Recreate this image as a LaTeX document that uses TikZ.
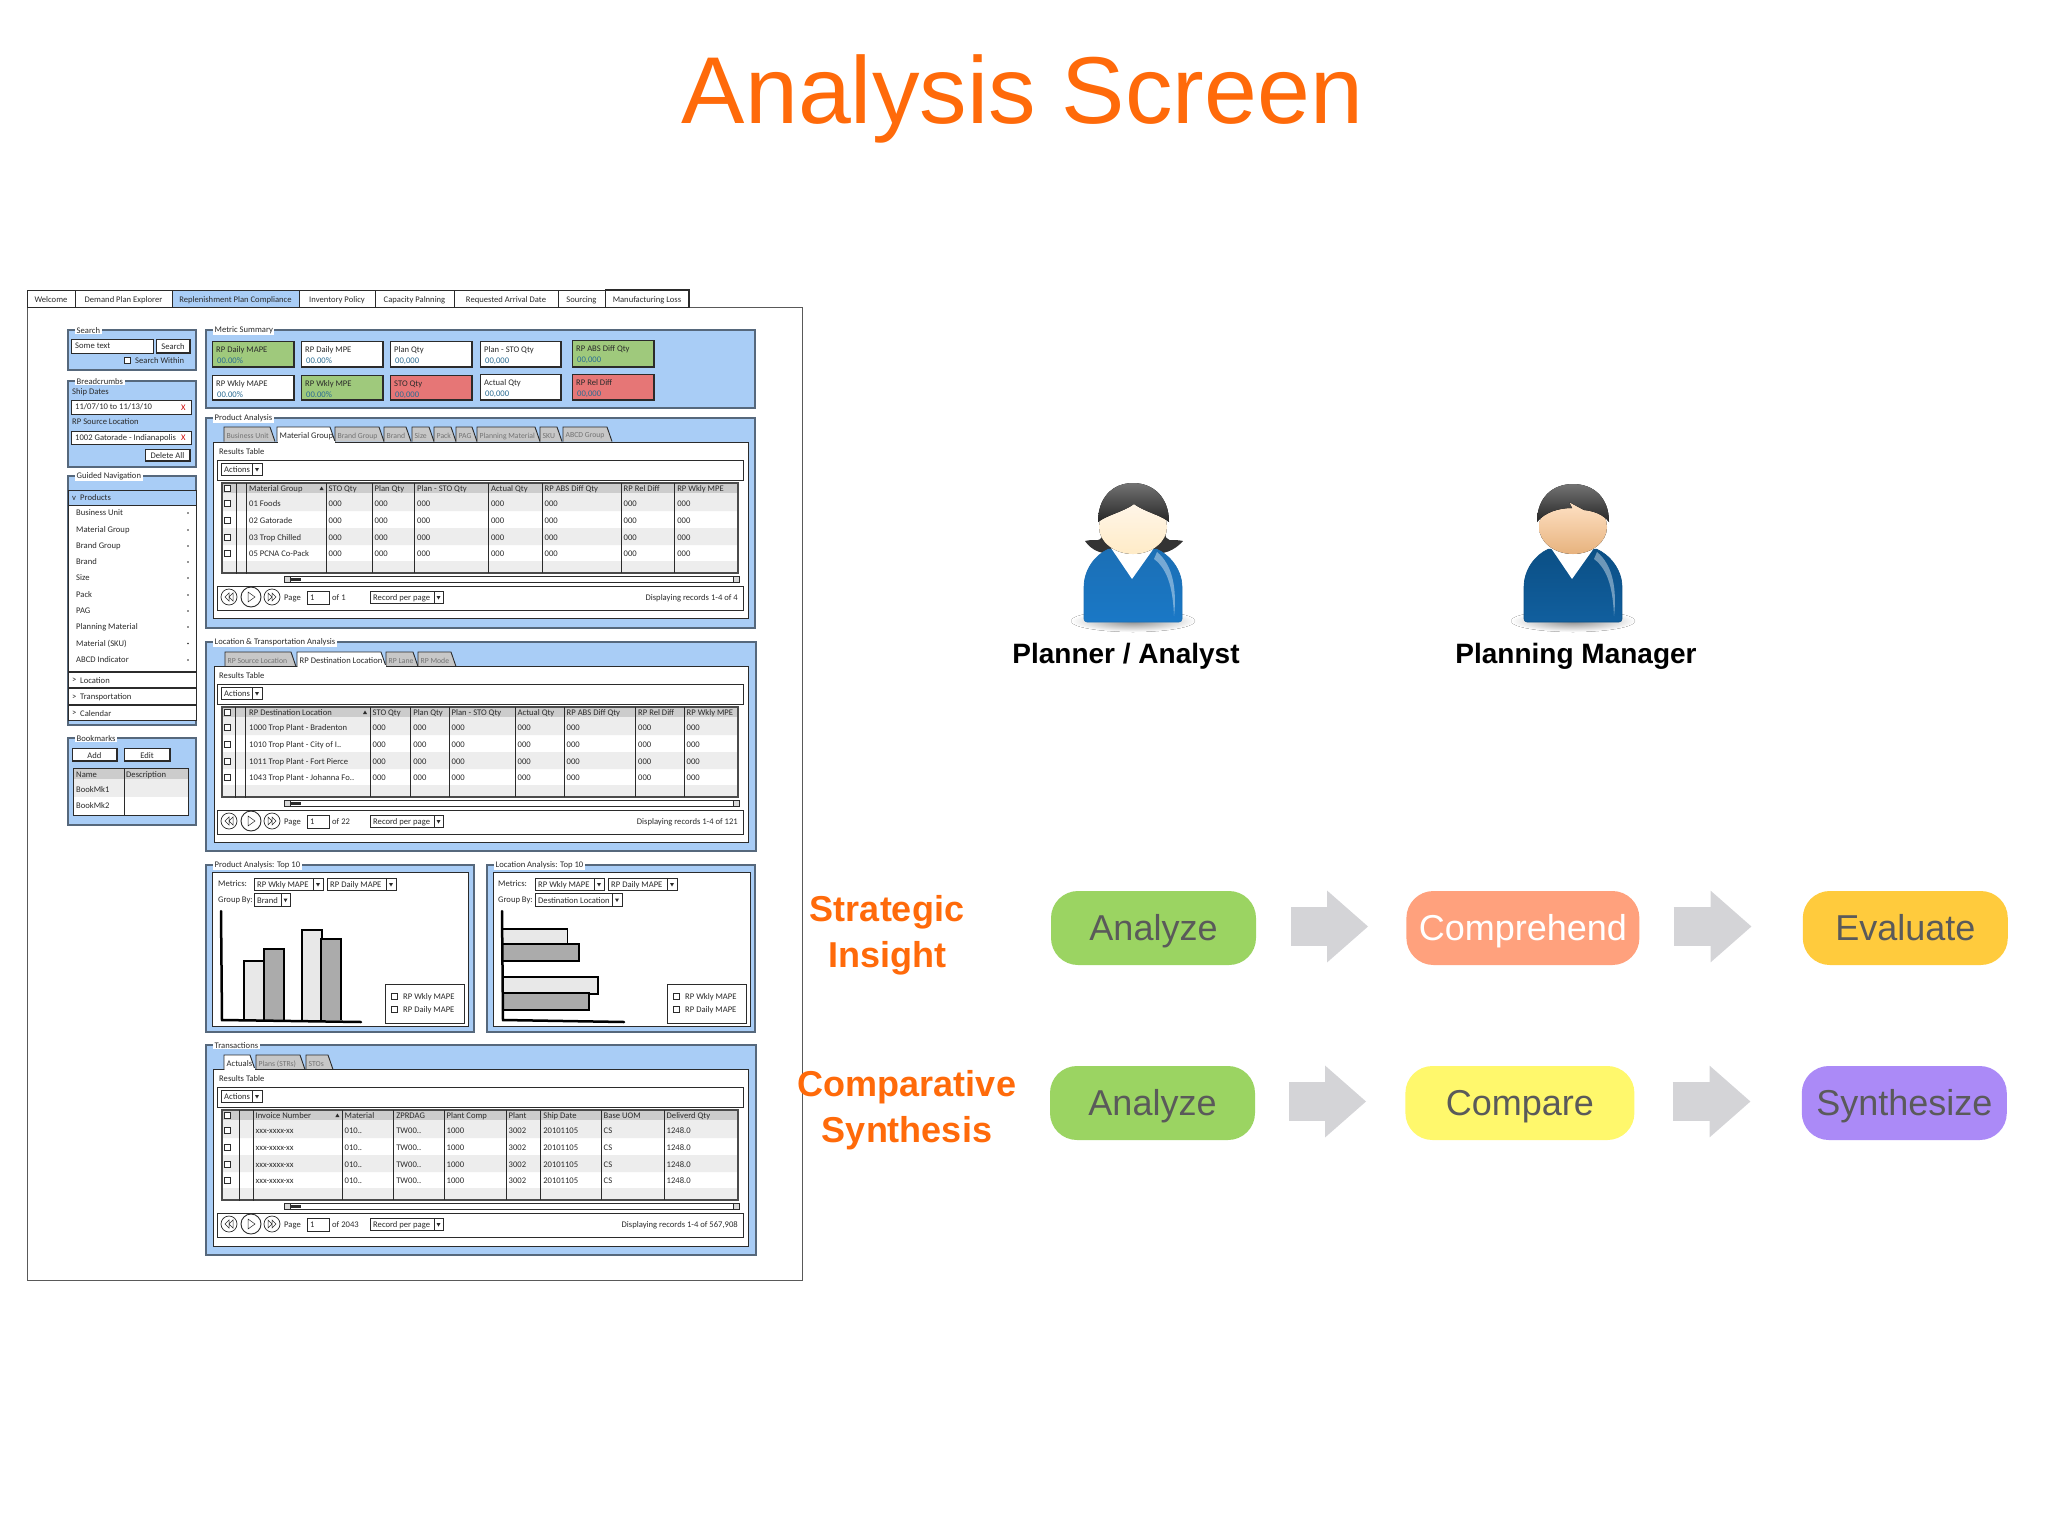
\documentclass[tikz,border=0pt]{standalone}
\usepackage{fontspec}
\setmainfont{Liberation Sans}
\newfontfamily\sketchfont{Carlito}
\usetikzlibrary{positioning,arrows.meta}

\definecolor{titleorange}{HTML}{FF6A0A}
\definecolor{wfblue}{HTML}{A9CDF6}
\definecolor{wfedge}{HTML}{56687C}
\definecolor{wfink}{HTML}{2B2B2B}
\definecolor{wfgreen}{HTML}{9FC97C}
\definecolor{wfred}{HTML}{E67676}
\definecolor{wfvalue}{HTML}{2A6C93}
\definecolor{arrowgrey}{HTML}{D4D4D7}
\definecolor{pilltext}{HTML}{5A5A5A}
\definecolor{analyzegreen}{HTML}{9BD462}
\definecolor{comprehendpeach}{HTML}{FFA17D}
\definecolor{evaluategold}{HTML}{FFCB3D}
\definecolor{compareyellow}{HTML}{FFF86C}
\definecolor{synthesizeviolet}{HTML}{AB8AF7}

\tikzset{
  wfline/.style={draw=wfink,line width=0.9pt},
  wfpanelbox/.style={draw=wfedge,line width=1.3pt,fill=wfblue},
  wflabelbase/.style={font=\sketchfont\fontsize{8.6}{10}\selectfont,text=wfink,inner sep=0pt,anchor=west,yshift=-1pt},
  wflegend/.style={font=\sketchfont\fontsize{8.6}{10}\selectfont,text=wfink,fill=white,inner xsep=1.5pt,inner ysep=0.5pt,anchor=west,yshift=-0.5pt},
  wftabtext/.style={font=\sketchfont\fontsize{7.7}{9}\selectfont,text=black!55},
  pill/.style={rounded corners=27pt,minimum width=205pt,minimum height=74pt,inner sep=0pt,text height=30pt,text depth=6pt,
    text=pilltext,font=\fontsize{36}{40}\selectfont},
  flowarrow/.style={draw=arrowgrey,line width=39pt,-{Triangle[length=41pt,width=69pt]},shorten <=35pt,shorten >=38pt},
  rowlabel/.style={text=titleorange,font=\bfseries\fontsize{36}{46}\selectfont,align=center,inner sep=0pt},
  rolelabel/.style={text=black,font=\bfseries\fontsize{28}{30}\selectfont,inner sep=0pt}
}

\newcounter{wfnode}
\newcommand{\wflabel}[4][]{\stepcounter{wfnode}\node[wflabelbase,#1] (wf\arabic{wfnode}) at ({#2},{#3}) {#4};}
\newcommand{\wfbox}[4]{\draw[wfline,fill=white] (#1,#2) rectangle (#3,#4);}
\newcommand{\wfcheck}[2]{\draw[draw=wfink,line width=0.6pt,fill=white] (#1-3,#2-3) rectangle (#1+3,#2+3);}
% button with the heavy lower right edge
\newcommand{\wfbutton}[5]{\wfbox{#1}{#2}{#3}{#4}
  \draw[draw=wfink,line width=1.6pt] (#1,#4) -- (#3,#4) -- (#3,#2);
  \stepcounter{wfnode}\node[wflabelbase,anchor=center] (wf\arabic{wfnode}) at ({(#1+#3)/2},{(#2+#4)/2}) {#5};}
\newcommand{\wfdrop}[6]{\draw[draw=wfink,line width=0.7pt,fill=white] (#1,#2) rectangle (#3,#4) (#5,#2) -- (#5,#4);
  \fill[wfink] ({(#5+#3)/2-2},{(#2+#4)/2-1}) -- ++(4,0) -- ++(-2,3.5) -- cycle;
  \wflabel{#1+3}{(#2+#4)/2}{#6}}
\newcommand{\wfcard}[7]{\draw[wfline,fill=#5] (#1,#2) rectangle (#3,#4);
  \draw[draw=wfink,line width=1.6pt] (#1,#4) -- (#3,#4) -- (#3,#2);
  \wflabel{#1+4}{#2+8}{#6}
  \wflabel[text=wfvalue]{#1+5}{#2+19}{#7}}
\newcommand{\wfpanel}[5]{\draw[wfpanelbox] (#1,#2) rectangle (#3,#4);
  \stepcounter{wfnode}\node[wflegend] (wf\arabic{wfnode}) at (#1+7,#2) {#5};}
\newcommand{\wfpaneltab}[5]{\draw[wfline,fill=#4] (#1,#3+14.5) -- (#1,#3) -- (#2-5,#3) -- (#2,#3+14.5);
  \wflabel[#5]{#1+2.5}{#3+8}}

% results table with its tool bar, scroll bar and pager
\newcommand{\resultstable}[7]{
  \wflabel{219}{451+#1}{Results Table}
  \wfbox{217}{460+#1}{743}{480+#1}
  \wfdrop{221}{463+#1}{262}{475+#1}{252}{Actions}
  \fill[white] (222,483+#1) rectangle (738,573+#1);
  \fill[black!7] (222,493+#1) rectangle (738,511+#1) (222,528+#1) rectangle (738,545+#1) (222,561+#1) rectangle (738,573+#1);
  \fill[black!20] (222,483+#1) rectangle (738,493+#1);
  \draw[wfline,line width=1.1pt,draw=wfink!85] (222,483+#1) rectangle (738,573+#1);
  \draw[wfline,line width=0.6pt] (#2,483+#1) -- (#2,574+#1) (#3,483+#1) -- (#3,574+#1);
  \foreach \cy in {488,503,520,537,553} {\wfcheck{227.5}{\cy+#1}}
  \foreach \colx/\colhead/\rowa/\rowb/\rowc/\rowd in {#4} {
    \ifdim\colx pt>#3pt \draw[wfline,line width=0.6pt] (\colx,483+#1) -- (\colx,573+#1);\fi
    \wflabel{\colx+2.5}{488+#1}{\colhead}
    \wflabel{\colx+2.5}{503+#1}{\rowa}
    \wflabel{\colx+2.5}{520+#1}{\rowb}
    \wflabel{\colx+2.5}{537+#1}{\rowc}
    \wflabel{\colx+2.5}{553+#1}{\rowd}
  }
  \fill[wfink] (#7-2,490+#1) -- ++(4,0) -- ++(-2,-3.5) -- cycle;
  % scroll bar
  \draw[draw=wfink,line width=0.6pt,fill=white] (284,576+#1) rectangle (739,582+#1);
  \fill[wfink] (290,577.5+#1) rectangle (301,580.5+#1);
  \draw[draw=wfink,line width=0.6pt,fill=black!15] (284,576+#1) rectangle (290,582+#1) (733,576+#1) rectangle (739,582+#1);
  % pager
  \wfbox{217}{586+#1}{743}{610+#1}
  \draw[draw=wfink,line width=0.7pt] (229,597+#1) circle (8) (272,597+#1) circle (8);
  \draw[wfline] (251,597+#1) circle (10);
  \draw[draw=wfink,line width=0.5pt] (229,593+#1) -- (225,597+#1) -- (229,601+#1) -- cycle (233,593+#1) -- (229,597+#1) -- (233,601+#1) -- cycle
    (248,592+#1) -- (255,597+#1) -- (248,602+#1) -- cycle
    (268,593+#1) -- (272,597+#1) -- (268,601+#1) -- cycle (272,593+#1) -- (276,597+#1) -- (272,601+#1) -- cycle;
  \wflabel{284}{597+#1}{Page}
  \wfbox{307}{591+#1}{329}{604+#1}
  \wflabel{310}{597+#1}{1}
  \wflabel{332}{597+#1}{#5}
  \wfdrop{370}{591+#1}{443}{603+#1}{434}{Record per page}
  \wflabel[anchor=east]{738}{597+#1}{#6}
}
% metric picker above each Top 10 chart, with its legend
\newcommand{\chartpicker}[8]{
  \wflabel{#1}{883}{Metrics:}
  \wflabel{#1}{899}{Group By:}
  \wfdrop{#2}{878}{#2+69}{890}{#2+59}{RP Wkly MAPE}
  \wfdrop{#3}{878}{#3+69}{890}{#3+59}{RP Daily MAPE}
  \wfdrop{#2}{893}{#4}{906}{#5}{#6}
  \draw[draw=wfink,line width=0.8pt,fill=white] (#7,984) rectangle (#8,1023);
  \wfcheck{#7+9}{996}
  \wfcheck{#7+9}{1009}
  \wflabel{#7+18}{996}{RP Wkly MAPE}
  \wflabel{#7+18}{1009}{RP Daily MAPE}
}
% shoulders, collar and face of a figure
\newcommand{\personbody}[4]{
  \fill[inner color=black!45,outer color=white] (0,621) ellipse (62 and 11);
  \draw[draw=#1,line width=0.6pt,top color=#1,bottom color=#2,rounded corners=3pt]
    (-49,622) -- (-49,590) .. controls (-49,570) and (-38,555) .. (-22,548) -- (-1,578) -- (21,548) .. controls (37,555) and (49,570) .. (49,590) -- (49,622) -- cycle;
  \fill[white] (-22,548) -- (-1,579) -- (21,548) -- (8,553) -- (-8,553) -- cycle;
  \fill[white,opacity=0.4] (24,552) .. controls (40,565) and (44,590) .. (41,616) .. controls (40,592) and (36,570) .. (21,559) -- cycle;
  \fill[top color=#3,bottom color=#4] (0,527) ellipse (34 and 27);
}

\begin{document}
\begin{tikzpicture}[x=1pt,y=-1pt]
\useasboundingbox (0,0) rectangle (2048,1536);

\node[text=titleorange,font=\fontsize{95}{100}\selectfont,inner sep=0pt,anchor=base] (title) at (1022.5,124) {Analysis Screen};

%%% wireframe of the screen
\draw[draw=black!65,line width=1pt,fill=white] (27,307) rectangle (802,1280);
\foreach \tabl/\tabr/\tabfill/\tabname in {27/75/white/Welcome,75/172/white/Demand Plan Explorer,172/299/wfblue/Replenishment Plan Compliance,
    299/375/white/Inventory Policy,375/454/white/Capacity Palnning,454/558/white/Requested Arrival Date,558/605/white/Sourcing,605/689/white/Manufacturing Loss} {
  \draw[wfline,fill=\tabfill] (\tabl,290) rectangle (\tabr,307);
  \wflabel[anchor=center]{(\tabl+\tabr)/2}{299}{\tabname}
}
\draw[draw=wfink,line width=1.2pt] (689,307) -- (689,290) -- (605,290);

% left column
\wfpanel{68}{330}{196}{370}{Search}
\wfbox{71}{339}{153}{353}
\wflabel{75}{345}{Some text}
\wfbutton{156}{339}{190}{353}{Search}
\wfcheck{127}{360}
\wflabel{135}{360}{Search Within}

\wfpanel{68}{381}{196}{467}{Breadcrumbs}
\wflabel{72}{391}{Ship Dates}
\wfbox{71}{400}{191}{414}
\wflabel{75}{406}{11/07/10 to 11/13/10}
\wflabel[text=red!80!black]{181}{407}{X}
\wflabel{72}{421}{RP Source Location}
\wfbox{71}{431}{191}{444}
\wflabel{75}{437}{1002 Gatorade - Indianapolis}
\wflabel[text=red!80!black]{181}{437}{X}
\wfbutton{145}{449}{190}{461}{Delete All}

\wfpanel{68}{476}{196}{725}{Guided Navigation}
\draw[wfline,fill=wfblue] (68,490) rectangle (196,505);
\wflabel{72}{497}{v}
\wflabel{80}{497}{Products}
\draw[wfline,fill=white] (68,505) rectangle (196,671);
\foreach \navy/\navname in {512/Business Unit,529/Material Group,545/Brand Group,561/Brand,577/Size,594/Pack,610/PAG,626/Planning Material,642.5/Material (SKU),659/ABCD Indicator} {
  \wflabel{76}{\navy}{\navname}
  \fill[wfink] (188,\navy+1) circle (0.9);
}
\foreach \navt/\navb/\navname in {672/687/Location,688/704/Transportation,705/720/Calendar} {
  \draw[wfline,fill=white] (68,\navt) rectangle (196,\navb);
  \wflabel{72}{(\navt+\navb)/2}{>}
  \wflabel{80}{(\navt+\navb)/2}{\navname}
}

\wfpanel{68}{738}{196}{825}{Bookmarks}
\wfbutton{72}{748}{117}{761}{Add}
\wfbutton{124}{748}{170}{761}{Edit}
\draw[wfline,fill=white] (73,768) rectangle (188,815);
\fill[black!20] (73.5,768.5) rectangle (187.5,779);
\fill[black!7] (73.5,779) rectangle (187.5,797);
\draw[wfline] (73,768) rectangle (188,815) (124,768) -- (124,815);
\wflabel{76}{774}{Name}
\wflabel{126}{774}{Description}
\wflabel{76}{788.5}{BookMk1}
\wflabel{76}{805}{BookMk2}

% metric cards
\wfpanel{206}{330}{755}{408}{Metric Summary}
\wfcard{212}{341}{294}{367}{wfgreen}{RP Daily MAPE}{00.00\%}
\wfcard{301}{341}{383}{367}{white}{RP Daily MPE}{00.00\%}
\wfcard{390}{341}{472}{367}{white}{Plan Qty}{00,000}
\wfcard{480}{341}{561}{367}{white}{Plan - STO Qty}{00,000}
\wfcard{572}{340}{654}{367}{wfgreen}{RP ABS Diff Qty}{00,000}
\wfcard{212}{375}{294}{400}{white}{RP Wkly MAPE}{00.00\%}
\wfcard{301}{375}{383}{400}{wfgreen}{RP Wkly MPE}{00.00\%}
\wfcard{390}{375}{472}{400}{wfred}{STO Qty}{00,000}
\wfcard{480}{374}{561}{400}{white}{Actual Qty}{00,000}
\wfcard{572}{374}{654}{400}{wfred}{RP Rel Diff}{00,000}

% product analysis
\wfpanel{206}{418}{755}{628}{Product Analysis}
\foreach \tabl/\tabr/\tabname in {224/275/Business Unit,335/384/Brand Group,384/411/Brand,412/434/Size,434/456/Pack,456/477/PAG,477/540/Planning Material,540/562/SKU,563/612/ABCD Group} {
  \wfpaneltab{\tabl}{\tabr}{427}{black!22}{wftabtext}{\tabname}
}
\draw[wfline,fill=white] (213,442) rectangle (748,618);
\wfpaneltab{277}{335}{427}{white}{}{Material Group}
\draw[white,line width=1.2pt] (277.5,442) -- (334.5,442);
\resultstable{0}{236}{246.5}{
  246.5/{}/{}/{}/{}/{},
  326/STO Qty/000/000/000/000,372/Plan Qty/000/000/000/000,414.5/Plan - STO Qty/000/000/000/000,488.4/Actual Qty/000/000/000/000,
  542/RP ABS Diff Qty/000/000/000/000,621/RP Rel Diff/000/000/000/000,674.6/RP Wkly MPE/000/000/000/000}{of 1}{Displaying records 1-4 of 4}{321.6}
\foreach \rowy/\rowname in {488/Material Group,503/01 Foods,520/02 Gatorade,537/03 Trop Chilled,553/05 PCNA Co-Pack} {\wflabel{249}{\rowy}{\rowname}}

% location and transportation analysis
\wfpanel{206}{642}{756}{851}{Location \& Transportation Analysis}
\foreach \tabl/\tabr/\tabname in {225/296/RP Source Location,386/418/RP Lane,418/456/RP Mode} {
  \wfpaneltab{\tabl}{\tabr}{652}{black!22}{wftabtext}{\tabname}
}
\draw[wfline,fill=white] (214,666) rectangle (748,842);
\wfpaneltab{297}{386}{652}{white}{}{RP Destination Location}
\draw[white,line width=1.2pt] (297.5,666) -- (385.5,666);
\resultstable{224}{235}{245.7}{
  245.7/{}/{}/{}/{}/{},
  370/STO Qty/000/000/000/000,410.6/Plan Qty/000/000/000/000,449/Plan - STO Qty/000/000/000/000,515/Actual Qty/000/000/000/000,
  564/RP ABS Diff Qty/000/000/000/000,635.5/RP Rel Diff/000/000/000/000,684/RP Wkly MPE/000/000/000/000}{of 22}{Displaying records 1-4 of 121}{365}
\foreach \rowy/\rowname in {712/RP Destination Location,727/1000 Trop Plant - Bradenton,744/1010 Trop Plant - City of I..,761/1011 Trop Plant - Fort Pierce,777/1043 Trop Plant - Johanna Fo..} {\wflabel{249}{\rowy}{\rowname}}

% top 10 charts
\wfpanel{206}{865}{474}{1032}{Product Analysis: Top 10}
\draw[wfline,fill=white] (212,872) rectangle (468,1026);
\chartpicker{218}{254}{327}{290}{281}{Brand}{385}{464}
\foreach \barl/\barr/\bart/\barfill in {244/264/961/black!9,264/284/949/black!33,302/322/930/black!9,321/341/939/black!33} {
  \draw[draw=black,line width=1.5pt,fill=\barfill] (\barl,1020) -- (\barl,\bart) -- (\barr,\bart) -- (\barr,1020);
}
\draw[draw=black,line width=2.5pt,line cap=round] (221,911) -- (222,1020) -- (361,1022);

\wfpanel{487}{865}{755}{1032}{Location Analysis: Top 10}
\draw[wfline,fill=white] (493,872) rectangle (750,1026);
\chartpicker{498}{535}{608}{622}{612}{Destination Location}{667}{746}
\foreach \bart/\barb/\barr/\barfill in {929/944/567.5/black!9,944/961/579/black!33,977/994/598/black!9,993/1010/589/black!33} {
  \draw[draw=black,line width=1.5pt,fill=\barfill] (503,\bart) -- (\barr,\bart) -- (\barr,\barb) -- (503,\barb);
}
\draw[draw=black,line width=2.5pt,line cap=round] (502,911) -- (503,1020) -- (624,1022);

% transactions
\wfpanel{206}{1045}{756}{1255}{Transactions}
\foreach \tabl/\tabr/\tabname in {256/305/Plans (STRs),306/333/STOs} {
  \wfpaneltab{\tabl}{\tabr}{1055}{black!22}{wftabtext}{\tabname}
}
\draw[wfline,fill=white] (213,1069) rectangle (748,1246);
\wfpaneltab{224}{255}{1055}{white}{}{Actuals}
\draw[white,line width=1.2pt] (224.5,1069) -- (254.5,1069);
\resultstable{627}{239}{253}{
  253/Invoice Number/xxx-xxxx-xx/xxx-xxxx-xx/xxx-xxxx-xx/xxx-xxxx-xx,
  342/Material/010../010../010../010..,393.6/ZPRDAG/TW00../TW00../TW00../TW00..,444/Plant Comp/1000/1000/1000/1000,
  506/Plant/3002/3002/3002/3002,540.6/Ship Date/20101105/20101105/20101105/20101105,601/Base UOM/CS/CS/CS/CS,664/Deliverd Qty/1248.0/1248.0/1248.0/1248.0}{of 2043}{Displaying records 1-4 of 567,908}{337.4}

%%% the two roles
\definecolor{womantop}{HTML}{1B6FB5}
\definecolor{womanlow}{HTML}{1A78C6}
\definecolor{mantop}{HTML}{0B4F85}
\definecolor{manlow}{HTML}{115F9E}
\begin{scope}[xshift=1133pt]
  \fill[black!80] (-30,530) .. controls (-30,545) and (-38,538) .. (-48,541) .. controls (-42,550) and (-30,556) .. (-18,552) -- (18,552) .. controls (30,556) and (42,550) .. (50,541) .. controls (38,538) and (32,545) .. (32,530) -- cycle;
  \personbody{womantop}{womanlow}{yellow!12!orange!8!white}{yellow!30!orange!22!white}
  \fill[top color=black!55,bottom color=black!85] (-35,522) .. controls (-35,497) and (-20,483) .. (0,483) .. controls (20,483) and (36,497) .. (36,522) .. controls (28,515) and (12,512) .. (1,504) .. controls (-10,512) and (-26,515) .. (-35,522) -- cycle;
\end{scope}
\begin{scope}[xshift=1573pt]
  \personbody{mantop}{manlow}{orange!22!white}{orange!38!brown!60!white}
  \fill[top color=black!55,bottom color=black!85] (-36,522) .. controls (-36,497) and (-20,484) .. (0,484) .. controls (20,484) and (36,497) .. (36,522) .. controls (30,514) and (20,511) .. (11,510) -- (-4,502) -- (-1,508) .. controls (-14,508) and (-28,512) .. (-36,522) -- cycle;
\end{scope}
\node[rolelabel,anchor=base] (planner) at (1126,663) {Planner / Analyst};
\node[rolelabel,anchor=base] (manager) at (1576,663) {Planning Manager};

%%% the two flows
\node[rowlabel] (strategic) at (887,935) {Strategic\\Insight};
\node[rowlabel] (comparative) at (907,1110) {Comparative\\Synthesis};

\node[pill,fill=analyzegreen] (analyzeA) at (1153.5,928) {Analyze};
\node[pill,fill=comprehendpeach,minimum width=233pt,text=white] (comprehend) [right=150pt of analyzeA] {Comprehend};
\node[pill,fill=evaluategold] (evaluate) [right=163pt of comprehend] {Evaluate};
\node[pill,fill=analyzegreen] (analyzeB) at (1152.5,1103) {Analyze};
\node[pill,fill=compareyellow,minimum width=229pt] (compare) [right=150pt of analyzeB] {Compare};
\node[pill,fill=synthesizeviolet] (synthesize) [right=167pt of compare] {Synthesize};

\draw[flowarrow] ([yshift=1.5pt]analyzeA.east) -- ([yshift=1.5pt]comprehend.west);
\draw[flowarrow,shorten <=34pt,shorten >=51pt] ([yshift=1.5pt]comprehend.east) -- ([yshift=1.5pt]evaluate.west);
\draw[flowarrow,shorten <=34pt,shorten >=39pt] ([yshift=1.5pt]analyzeB.east) -- ([yshift=1.5pt]compare.west);
\draw[flowarrow,shorten <=38pt,shorten >=51pt] ([yshift=1.5pt]compare.east) -- ([yshift=1.5pt]synthesize.west);
\end{tikzpicture}
\end{document}
